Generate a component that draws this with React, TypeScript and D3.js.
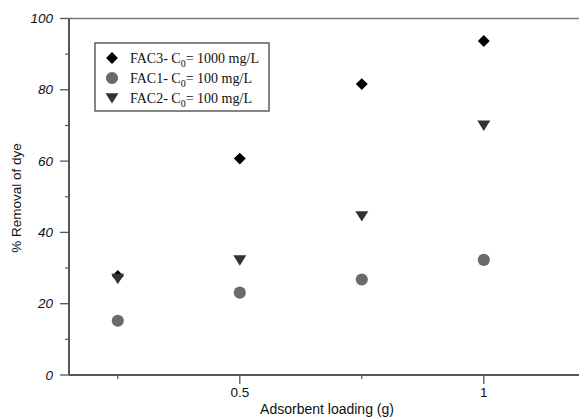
import React from "react";
import * as d3 from "d3";

const loadings = [0.25, 0.5, 0.75, 1.0];
const fac3Values = [27.8, 60.7, 81.6, 93.7];
const fac1Values = [15.2, 23.1, 26.8, 32.3];
const fac2Values = [27.0, 32.2, 44.6, 70.0];
const yTicks = [0, 20, 40, 60, 80, 100];
const yMinorTicks = [10, 30, 50, 70, 90];
const xTicks = [0.5, 1];
const xMinorTicks = [0.25, 0.75];

const W = 579;
const H = 419;
const left = 69;
const top = 18.5;
const bottom = 375;

const x = d3.scaleLinear().domain([0.15, 1.2]).range([left, left + 1.05 * 488]);
const y = d3.scaleLinear().domain([0, 100]).range([bottom, top]);

const diamond = d3.symbol().type(d3.symbolDiamond2).size(90)();
const circle = d3.symbol().type(d3.symbolCircle).size(115)();
const triangle = (cx: number, cy: number, s: number) =>
  `M${cx - s},${cy - s * 0.75}L${cx + s},${cy - s * 0.75}L${cx},${cy + s * 0.85}Z`;

const series = [
  { name: "FAC3- C", conc: "= 1000 mg/L", values: fac3Values, kind: "diamond", color: "#000" },
  { name: "FAC1- C", conc: "= 100 mg/L", values: fac1Values, kind: "circle", color: "#6a6a6a" },
  { name: "FAC2- C", conc: "= 100 mg/L", values: fac2Values, kind: "triangle", color: "#333" },
];

function Marker({ kind, cx, cy, color }: { kind: string; cx: number; cy: number; color: string }) {
  if (kind === "diamond") return <path d={diamond!} transform={`translate(${cx},${cy})`} fill={color} />;
  if (kind === "circle") return <path d={circle!} transform={`translate(${cx},${cy})`} fill={color} />;
  return <path d={triangle(cx, cy, 6.5)} fill={color} />;
}

export default function App() {
  const axisColor = "#555";
  const sans = "Liberation Sans, Arial, sans-serif";
  return (
    <svg width={W} height={H} style={{ position: "absolute", left: 0, top: 0, background: "#fff" }}>
      {/* frame: top border and axes */}
      <line x1={left} x2={W} y1={top} y2={top} stroke="#777" strokeWidth={1.5} />
      <line x1={left} x2={left} y1={top} y2={bottom} stroke={axisColor} strokeWidth={2} />
      <line x1={left} x2={W} y1={bottom} y2={bottom} stroke={axisColor} strokeWidth={2} />

      {yTicks.map((t) => (
        <g key={t}>
          <line x1={left - 9} x2={left} y1={y(t)} y2={y(t)} stroke={axisColor} strokeWidth={1.3} />
          <text x={53} y={y(t) + 4.5} textAnchor="end" fontFamily={sans} fontStyle="italic" fontSize={13.5} fill="#111">
            {t}
          </text>
        </g>
      ))}
      {yMinorTicks.map((t) => (
        <line key={t} x1={left - 4} x2={left} y1={y(t)} y2={y(t)} stroke={axisColor} strokeWidth={1.2} />
      ))}
      {xTicks.map((t) => (
        <g key={t}>
          <line x1={x(t)} x2={x(t)} y1={bottom} y2={bottom + 9} stroke={axisColor} strokeWidth={1.3} />
          <text x={x(t)} y={bottom + 22} textAnchor="middle" fontFamily={sans} fontSize={13.5} fill="#111">
            {t}
          </text>
        </g>
      ))}
      {xMinorTicks.map((t) => (
        <line key={t} x1={x(t)} x2={x(t)} y1={bottom} y2={bottom + 4} stroke={axisColor} strokeWidth={1.2} />
      ))}

      <text x={327} y={414} textAnchor="middle" fontFamily={sans} fontSize={14} fill="#111">
        Adsorbent loading (g)
      </text>
      <text transform={`translate(21,198) rotate(-90)`} textAnchor="middle" fontFamily={sans} fontSize={13.5} fill="#111">
        % Removal of dye
      </text>

      {series.map((s) =>
        s.values.map((v, i) => (
          <Marker key={s.kind + i} kind={s.kind} cx={x(loadings[i])} cy={y(v)} color={s.color} />
        ))
      )}

      {/* legend */}
      <rect x={95} y={43} width={174} height={68} fill="#fff" stroke="#444" strokeWidth={1.3} />
      {series.map((s, i) => {
        const ry = 58 + i * 20;
        return (
          <g key={s.kind}>
            <Marker kind={s.kind} cx={112} cy={ry} color={s.color} />
            <text x={130} y={ry + 4.5} fontFamily="Liberation Serif, Times New Roman, serif" fontSize={14} fill="#111">
              {s.name}
              <tspan fontSize={10} dy={4}>0</tspan>
              <tspan dy={-4}>{s.conc}</tspan>
            </text>
          </g>
        );
      })}
    </svg>
  );
}
